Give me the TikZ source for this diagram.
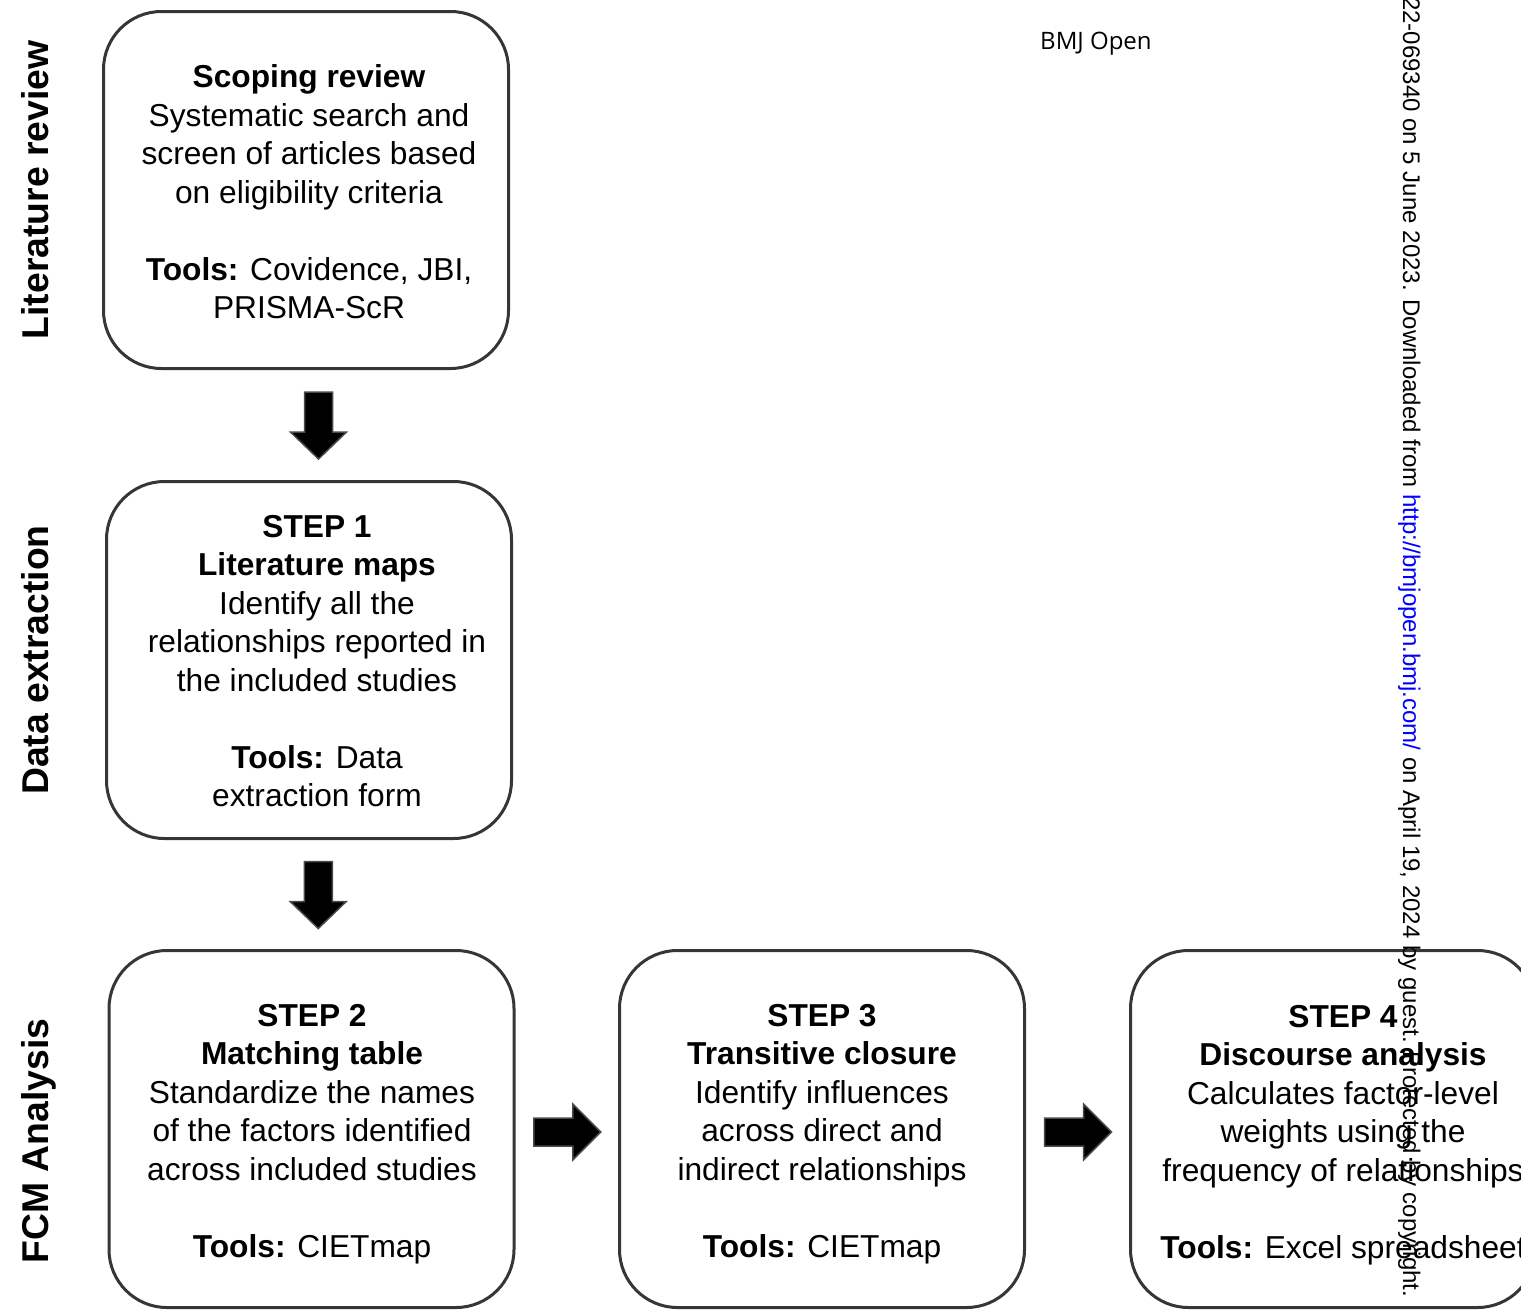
\documentclass[tikz,border=0pt]{standalone}
\usepackage{fontspec}
\setmainfont{Liberation Sans}
\newfontfamily\headfont{Open Sans}
\usetikzlibrary{calc}

\definecolor{boxgray}{HTML}{363636}
\definecolor{arrowgray}{HTML}{4A4A4A}
\definecolor{linkblue}{HTML}{0000FF}

\newcommand{\boxfont}{\fontsize{31.7}{38.5}\selectfont}

\begin{document}
\begin{tikzpicture}[x=1pt,y=-1pt,
  stagebox/.style={draw=boxgray, line width=3pt, rounded corners=58pt,
    minimum width=405pt, minimum height=357pt, inner sep=0pt},
  stagetext/.style={align=center, font=\boxfont, inner sep=0pt},
  sidelabel/.style={rotate=90, anchor=base, inner sep=0pt,
    font=\fontsize{37.3}{41}\selectfont\bfseries},
  blockarrow/.style={fill=black, draw=arrowgray, line width=1.5pt, line join=miter}]

\useasboundingbox (0,0) rectangle (1521,1310);
\clip (0,0) rectangle (1521,1310);

% stage labels on the left
\node[sidelabel] (l1) at (48,190) {Literature review};
\node[sidelabel] (l2) at (48,660) {Data extraction};
\node[sidelabel] (l3) at (48,1141) {FCM Analysis};

% boxes
\node[stagebox] (b1) at (306,190) {};
\node[stagebox] (b2) at (309,660) {};
\node[stagebox] (b3) at (311.5,1129) {};
\node[stagebox] (b4) at (822,1129) {};
\node[stagebox] (b5) at (1333,1129) {};

% box texts
\node[stagetext] (t1) at (309,192) {\textbf{Scoping review}\\Systematic search and\\screen of articles based\\on eligibility criteria\\[38.5pt]\textbf{Tools:} Covidence, JBI,\\PRISMA-ScR};
\node[stagetext] (t2) at (317,661) {\textbf{STEP 1}\\\textbf{Literature maps}\\Identify all the\\relationships reported in\\the included studies\\[38.5pt]\textbf{Tools:} Data\\extraction form};
\node[stagetext] (t3) at (312,1134) {\textbf{STEP 2}\\\textbf{Matching table}\\Standardize the names\\of the factors identified\\across included studies\\[38.5pt]\textbf{Tools:} CIETmap};
\node[stagetext] (t4) at (822,1134) {\textbf{STEP 3}\\\textbf{Transitive closure}\\Identify influences\\across direct and\\indirect relationships\\[38.5pt]\textbf{Tools:} CIETmap};
\node[stagetext] (t5) at (1343,1135) {\textbf{STEP 4}\\\textbf{Discourse analysis}\\Calculates factor-level\\weights using the\\frequency of relationships\\[38.5pt]\textbf{Tools:} Excel spreadsheet};

% block arrows between the stages
\coordinate (a1) at ($(b1.south)!0.5!(b2.north) + (11,0)$);
\coordinate (a2) at ($(b2.south)!0.5!(b3.north) + (8,0)$);
\coordinate (a3) at ($(b3.east)!0.5!(b4.west) + (0,3)$);
\coordinate (a4) at ($(b4.east)!0.5!(b5.west) + (0,3)$);

\foreach \c in {a1,a2}{
  \path[blockarrow] (\c) ++(-14,-33) -- ++(28,0) -- ++(0,40) -- ++(14,0)
    -- ++(-28,27) -- ++(-28,-27) -- ++(14,0) -- cycle;
}
\foreach \c in {a3,a4}{
  \path[blockarrow] (\c) ++(-33,-14) -- ++(39,0) -- ++(0,-14) -- ++(28,28)
    -- ++(-28,28) -- ++(0,-14) -- ++(-39,0) -- cycle;
}

% journal header and side note
\node[anchor=base west, inner sep=0pt, font=\headfont\fontsize{24}{27}\selectfont] (hd) at (1040,49) {BMJ Open};
\node[rotate=-90, anchor=base west, inner sep=0pt, font=\fontsize{24}{28}\selectfont] (note) at (1403,-3)
  {22-069340 on 5 June 2023. Downloaded from \textcolor{linkblue}{http://bmjopen.bmj.com/} on April 19, 2024 by guest. Protected by copyright.};

\end{tikzpicture}
\end{document}
